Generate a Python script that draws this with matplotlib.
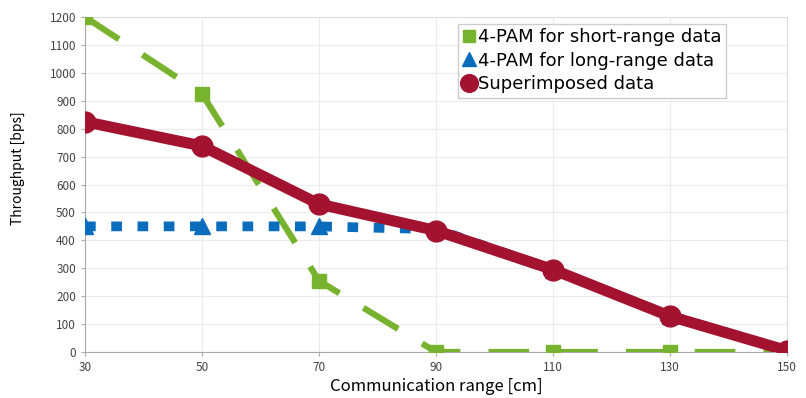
import matplotlib
matplotlib.use('Agg')
import matplotlib.pyplot as plt
import numpy as np

plt.rcParams['font.family'] = ['Noto Sans CJK JP', 'DejaVu Sans']

ranges = [30, 50, 70, 90, 110, 130, 150]
short_range = [1200, 925, 255, 0, 0, 0, 0]
long_range = [450, 450, 450, 440, 295, 130, 5]
superimposed = [825, 738, 530, 435, 295, 128, 5]

green = '#77B32F'
blue = '#0A6CBD'
red = '#A3132F'

fig = plt.figure(figsize=(8.06, 3.98), dpi=100)
ax = fig.add_axes([85 / 806, 1 - 352 / 398, 702 / 806, 335 / 398])

ax.plot(ranges, short_range, color=green, lw=4.5, ls=(0, (6.5, 4.5)), marker='s',
        ms=10, label='4-PAM for short-range data', zorder=3)
ax.plot(ranges, long_range, color=blue, lw=7, ls=(0, (1.1, 1.6)), marker='^',
        ms=12, label='4-PAM for long-range data', zorder=4)
ax.plot(ranges, superimposed, color=red, lw=8, marker='o', ms=15,
        label='Superimposed data', zorder=5)

ax.set_xlim(30, 150)
ax.set_ylim(0, 1200)
ax.set_xticks(np.arange(30, 151, 20))
ax.set_yticks(np.arange(0, 1201, 100))
ax.grid(True, color='#ebebeb', lw=0.8)
ax.set_axisbelow(True)
for s in ax.spines.values():
    s.set_color('#dddddd')
ax.spines['left'].set_color('#aaaaaa')
ax.spines['bottom'].set_color('#aaaaaa')
ax.tick_params(labelsize=8.5, colors='#aaaaaa', labelcolor='#444444', length=3)
ax.set_xlabel('Communication range [cm]', fontsize=12, labelpad=3)
ax.set_ylabel('Throughput [bps]', fontsize=10, labelpad=14)
ax.yaxis.set_label_coords(-0.085, 0.55)

leg = ax.legend(loc='upper left', bbox_to_anchor=(0.531, 0.98),
                prop={'family': 'DejaVu Sans', 'size': 13},
                handlelength=0.8, handletextpad=0.05, borderpad=0.25,
                labelspacing=0.3, fancybox=False, framealpha=1,
                edgecolor='#cccccc', borderaxespad=0, markerscale=0.85)
for h in leg.legend_handles:
    h.set_linestyle('none')

plt.savefig('out.png', dpi=100)
